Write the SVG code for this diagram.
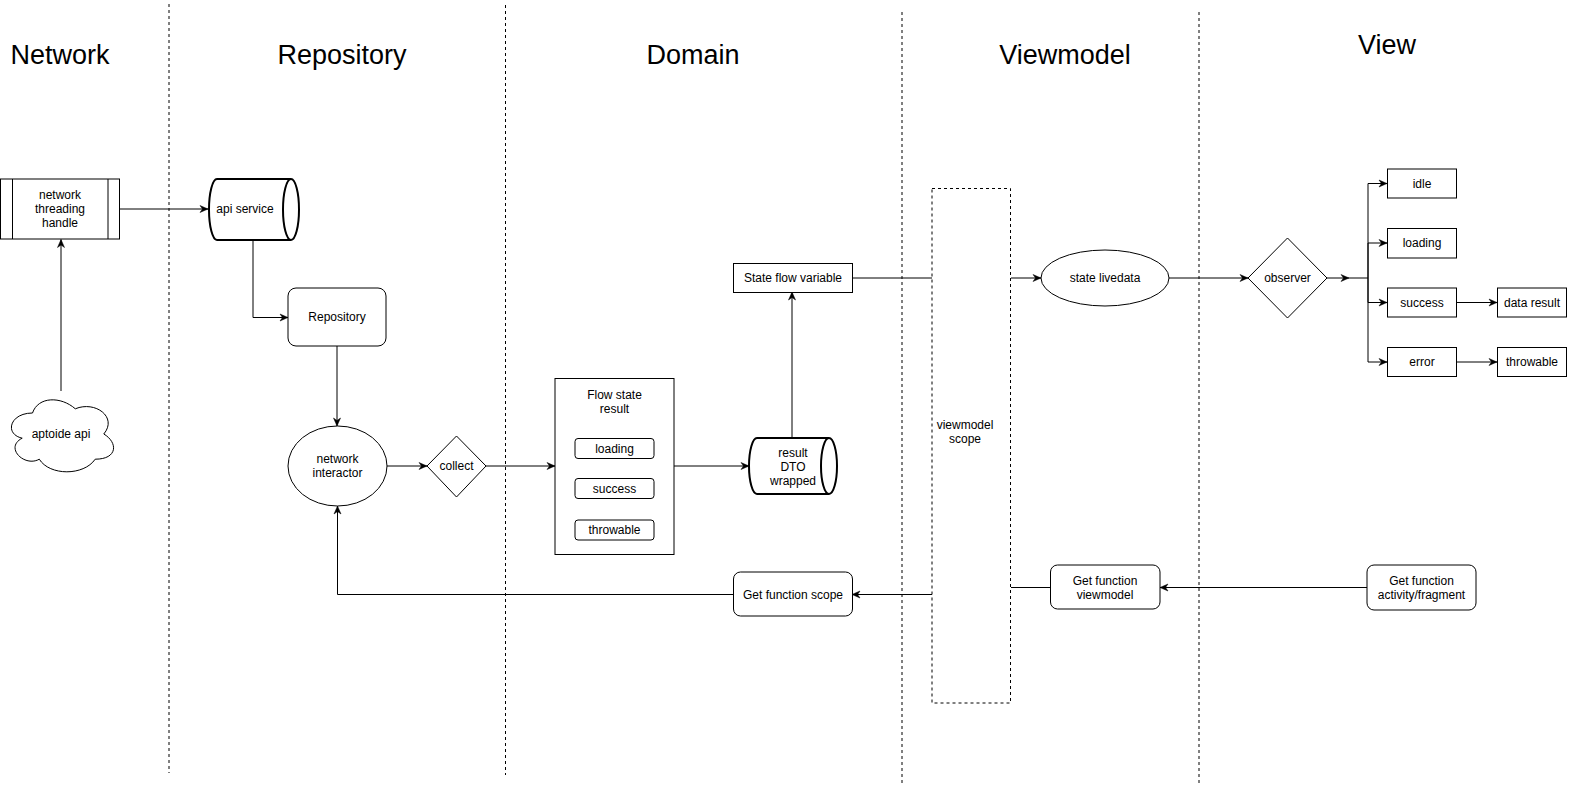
<svg xmlns="http://www.w3.org/2000/svg" width="1583" height="793" viewBox="0 0 1583 793">
<style>
text{font-family:"Liberation Sans",Arial,Helvetica,sans-serif;font-size:12px;fill:#000;text-anchor:middle}
.title{font-size:27px}
.box{fill:#fff;stroke:#000;stroke-width:1}
.cyl{fill:#fff;stroke:#000;stroke-width:2}
.lane{stroke:#000;stroke-width:1;stroke-dasharray:3 3;fill:none}
.edge{fill:none;stroke:#000;stroke-width:1}
</style>
<defs>
<marker id="arr" markerUnits="userSpaceOnUse" markerWidth="10" markerHeight="10" refX="9" refY="5" orient="auto">
<path d="M1,1.5 L9,5 L1,8.5 L3.5,5 Z" fill="#000" stroke="#000" stroke-width="0.5"/>
</marker>
</defs>
<rect width="1583" height="793" fill="#fff"/>
<g id="lanes">
<line class="lane" x1="169" y1="4" x2="169" y2="773"/>
<line class="lane" x1="505.5" y1="5" x2="505.5" y2="775"/>
<line class="lane" x1="902" y1="12" x2="902" y2="783"/>
<line class="lane" x1="1199" y1="12" x2="1199" y2="783"/>
</g>
<g id="titles">
<text class="title" x="60" y="64">Network</text>
<text class="title" x="342" y="64">Repository</text>
<text class="title" x="693" y="64">Domain</text>
<text class="title" x="1065" y="64">Viewmodel</text>
<text class="title" x="1387" y="54">View</text>
</g>
<g id="connectors">
<path class="edge" d="M61,391 L61,239.5" marker-end="url(#arr)"/>
<path class="edge" d="M120,209 L208,209" marker-end="url(#arr)"/>
<path class="edge" d="M253,240 L253,317.5 L288,317.5" marker-end="url(#arr)"/>
<path class="edge" d="M337,346 L337,426" marker-end="url(#arr)"/>
<path class="edge" d="M387,466 L427,466" marker-end="url(#arr)"/>
<path class="edge" d="M486,466 L555,466" marker-end="url(#arr)"/>
<path class="edge" d="M674,466 L749,466" marker-end="url(#arr)"/>
<path class="edge" d="M792,438 L792,292" marker-end="url(#arr)"/>
<path class="edge" d="M852,278 L932,278"/>
<path class="edge" d="M1011,278 L1041,278" marker-end="url(#arr)"/>
<path class="edge" d="M1169,278 L1248,278" marker-end="url(#arr)"/>
<path class="edge" d="M1327,278 L1349,278" marker-end="url(#arr)"/>
<path class="edge" d="M1349,278 L1368,278"/>
<path class="edge" d="M1368,278 L1368,183.5 L1387,183.5" marker-end="url(#arr)"/>
<path class="edge" d="M1368,278 L1368,243 L1387,243" marker-end="url(#arr)"/>
<path class="edge" d="M1368,278 L1368,302.5 L1387,302.5" marker-end="url(#arr)"/>
<path class="edge" d="M1368,278 L1368,362 L1387,362" marker-end="url(#arr)"/>
<path class="edge" d="M1456,302.5 L1497,302.5" marker-end="url(#arr)"/>
<path class="edge" d="M1456,362 L1497,362" marker-end="url(#arr)"/>
<path class="edge" d="M1367,587.5 L1160,587.5" marker-end="url(#arr)"/>
<path class="edge" d="M1050,587.5 L1011,587.5"/>
<path class="edge" d="M932,594.5 L852,594.5" marker-end="url(#arr)"/>
<path class="edge" d="M733,594.5 L337.5,594.5 L337.5,506" marker-end="url(#arr)"/>
</g>
<g id="network-threading-handle">
<rect class="box" x="0.5" y="179" width="119" height="60"/>
<line class="edge" x1="12.5" y1="179" x2="12.5" y2="239"/>
<line class="edge" x1="108" y1="179" x2="108" y2="239"/>
<text x="60" y="199">network</text>
<text x="60" y="213">threading</text>
<text x="60" y="227">handle</text>
</g>
<g id="aptoide-api">
<path class="box" d="M32.5,413 C9.7,413 4,434 22.2,438.2 C4,447.4 24.5,467.6 39.3,459.2 C49.6,476 83.8,476 95.2,459.2 C118,459.2 118,442.4 103.8,434 C118,417.2 95.2,400.4 75.3,408.8 C61,396.2 38.2,396.2 32.5,413 Z"/>
<text x="61" y="438">aptoide api</text>
</g>
<g id="api-service">
<path class="cyl" d="M217,179 L291,179 A8,30.5 0 0 1 291,240 L217,240 A8,30.5 0 0 1 217,179 Z"/>
<path class="cyl" d="M291,179 A8,30.5 0 0 0 291,240" fill="none"/>
<text x="245" y="213">api service</text>
</g>
<g id="repository">
<rect class="box" x="288" y="288" width="98" height="58" rx="8"/>
<text x="337" y="321">Repository</text>
</g>
<g id="network-interactor">
<ellipse class="box" cx="337.5" cy="466" rx="49.5" ry="40"/>
<text x="337.5" y="463">network</text>
<text x="337.5" y="477">interactor</text>
</g>
<g id="collect">
<path class="box" d="M456.5,436 L486,466 L456.5,497 L427,466 Z"/>
<text x="456.5" y="470">collect</text>
</g>
<g id="flow-state-result">
<rect class="box" x="555" y="378.5" width="119" height="176"/>
<text x="614.5" y="399">Flow state</text>
<text x="614.5" y="413">result</text>
<rect class="box" x="575" y="438.5" width="79" height="20" rx="3"/>
<text x="614.5" y="453">loading</text>
<rect class="box" x="575" y="478.5" width="79" height="20" rx="3"/>
<text x="614.5" y="493">success</text>
<rect class="box" x="575" y="520" width="79" height="20" rx="3"/>
<text x="614.5" y="534">throwable</text>
</g>
<g id="result-dto-wrapped">
<path class="cyl" d="M757,438 L829,438 A8,28 0 0 1 829,494 L757,494 A8,28 0 0 1 757,438 Z"/>
<path class="cyl" d="M829,438 A8,28 0 0 0 829,494" fill="none"/>
<text x="793" y="457">result</text>
<text x="793" y="471">DTO</text>
<text x="793" y="485">wrapped</text>
</g>
<g id="state-flow-variable">
<rect class="box" x="733.5" y="263.5" width="119" height="29"/>
<text x="793" y="282">State flow variable</text>
</g>
<g id="viewmodel-scope">
<rect class="lane" x="932" y="188.5" width="78.5" height="514.5"/>
<text x="965" y="429">viewmodel</text>
<text x="965" y="443">scope</text>
</g>
<g id="state-livedata">
<ellipse class="box" cx="1105" cy="278" rx="64" ry="28"/>
<text x="1105" y="282">state livedata</text>
</g>
<g id="observer">
<path class="box" d="M1287.5,238 L1327,278 L1287.5,318 L1248,278 Z"/>
<text x="1287.5" y="282">observer</text>
</g>
<g id="idle">
<rect class="box" x="1387.5" y="169" width="69" height="29"/>
<text x="1422" y="188">idle</text>
</g>
<g id="loading">
<rect class="box" x="1387.5" y="228.5" width="69" height="29.5"/>
<text x="1422" y="247">loading</text>
</g>
<g id="success">
<rect class="box" x="1387.5" y="288" width="69" height="29"/>
<text x="1422" y="307">success</text>
</g>
<g id="error">
<rect class="box" x="1387.5" y="347.5" width="69" height="29"/>
<text x="1422" y="366">error</text>
</g>
<g id="data-result">
<rect class="box" x="1497.5" y="288" width="69" height="29"/>
<text x="1532" y="307">data result</text>
</g>
<g id="throwable">
<rect class="box" x="1497.5" y="347.5" width="69" height="29"/>
<text x="1532" y="366">throwable</text>
</g>
<g id="get-function-activity-fragment">
<rect class="box" x="1367" y="565" width="109" height="45" rx="7"/>
<text x="1421.5" y="585">Get function</text>
<text x="1421.5" y="599">activity/fragment</text>
</g>
<g id="get-function-viewmodel">
<rect class="box" x="1050.5" y="565" width="109.5" height="44" rx="7"/>
<text x="1105" y="585">Get function</text>
<text x="1105" y="599">viewmodel</text>
</g>
<g id="get-function-scope">
<rect class="box" x="733.5" y="572" width="119" height="44" rx="7"/>
<text x="793" y="598.5">Get function scope</text>
</g>
</svg>
